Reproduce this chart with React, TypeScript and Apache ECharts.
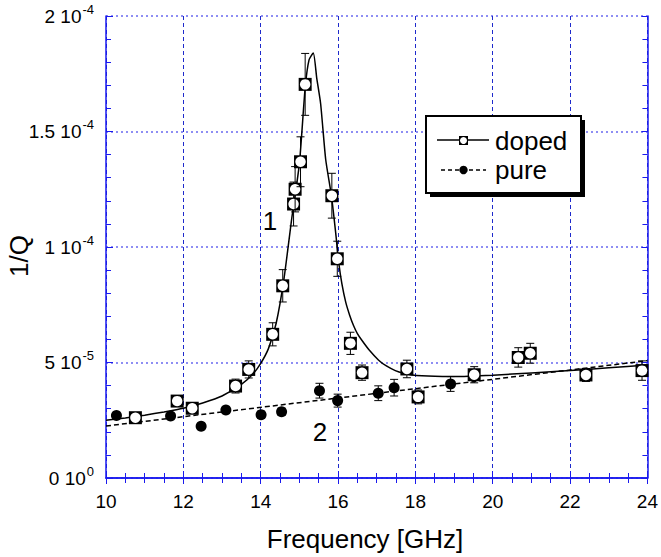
import React, { useEffect, useRef } from "react";
import * as echarts from "echarts";

// values of 1/Q are in units of 1e-5
const yTickLabels = ["0 10{s|0}", "5 10{s|-5}", "1 10{s|-4}", "1.5 10{s|-4}", "2 10{s|-4}"];
const xTickLabels = ["10", "12", "14", "16", "18", "20", "22", "24"];

const dopedX = [10.76, 11.84, 12.23, 13.35, 13.69, 14.31, 14.57, 14.85, 14.89, 15.03, 15.15, 15.84, 15.98, 16.32, 16.62, 17.78, 18.07, 19.52, 20.66, 20.97, 22.41, 23.86];
const dopedY = [2.61, 3.33, 3.02, 3.98, 4.7, 6.22, 8.32, 11.86, 12.5, 13.69, 17.04, 12.22, 9.49, 5.83, 4.56, 4.72, 3.51, 4.47, 5.22, 5.4, 4.46, 4.65];
const dopedErr = [0.1, 0.22, 0.1, 0.3, 0.37, 0.5, 0.7, 0.95, 0.98, 1.08, 1.34, 0.97, 0.76, 0.48, 0.33, 0.38, 0.3, 0.35, 0.42, 0.43, 0.28, 0.42];

const pureX = [10.27, 11.67, 12.46, 13.1, 14.01, 14.54, 15.52, 15.99, 17.04, 17.45, 18.91];
const pureY = [2.71, 2.68, 2.24, 2.94, 2.74, 2.87, 3.78, 3.35, 3.67, 3.91, 4.07];
const pureErr = [0.1, 0.1, 0.05, 0.1, 0.15, 0.15, 0.32, 0.28, 0.32, 0.36, 0.32];

const dopedFitX = [10, 10.5, 11, 11.5, 12, 12.5, 13, 13.5, 13.8, 14, 14.2, 14.4, 14.6, 14.8, 15.0, 15.15, 15.25, 15.36, 15.45, 15.55, 15.68, 15.83, 15.94, 16.02, 16.1, 16.2, 16.3, 16.4, 16.5, 16.62, 16.8, 17.05, 17.25, 17.48, 17.7, 17.91, 18.5, 19, 20, 21, 22, 23, 24];
const dopedFitY = [2.5, 2.6, 2.72, 2.86, 3.02, 3.25, 3.55, 4.05, 4.5, 4.96, 5.6, 6.7, 8.6, 11.2, 13.6, 16.9, 18.1, 18.4, 17.3, 16.2, 13.8, 12.2, 10.6, 9.3, 8.4, 7.6, 7.05, 6.6, 6.25, 5.95, 5.55, 5.1, 4.85, 4.65, 4.53, 4.46, 4.4, 4.39, 4.45, 4.55, 4.65, 4.77, 4.89];

const pureFitX = [10, 24];
const pureFitY = [2.25, 5.08];

const FONT = "Liberation Sans, Arial, sans-serif";
const AXIS_BLUE = "#1a1aee";

export default function App() {
  const ref = useRef<HTMLDivElement>(null);
  useEffect(() => {
    if (!ref.current) return;
    const chart = echarts.init(ref.current, undefined, { renderer: "svg" });

    const errItem = (kind: "doped" | "pure") => (params: any, api: any) => {
      const x = api.value(0);
      const y = api.value(1);
      const e = api.value(2);
      const p = api.coord([x, y]);
      const t = api.coord([x, y + e]);
      const b = api.coord([x, y - e]);
      const cap = 4;
      const ls = { stroke: "#000", lineWidth: 1 };
      const children: any[] = [
        { type: "line", shape: { x1: p[0], y1: t[1], x2: p[0], y2: b[1] }, style: ls },
        { type: "line", shape: { x1: p[0] - cap, y1: t[1], x2: p[0] + cap, y2: t[1] }, style: ls },
        { type: "line", shape: { x1: p[0] - cap, y1: b[1], x2: p[0] + cap, y2: b[1] }, style: ls },
      ];
      if (kind === "doped") {
        children.push({ type: "rect", shape: { x: p[0] - 6.5, y: p[1] - 6.5, width: 13, height: 13 }, style: { fill: "#000" } });
        children.push({ type: "circle", shape: { cx: p[0], cy: p[1], r: 5.2 }, style: { fill: "#fff" } });
      } else {
        children.push({ type: "circle", shape: { cx: p[0], cy: p[1], r: 5.5 }, style: { fill: "#000" } });
      }
      return { type: "group", children };
    };

    const option: any = {
      animation: false,
      grid: { left: 106, right: 10, top: 16, bottom: 79 },
      xAxis: [
        {
          type: "value",
          min: 10,
          max: 24,
          interval: 2,
          axisLine: { lineStyle: { color: AXIS_BLUE, width: 1.5 } },
          axisTick: { inside: true, length: 7, lineStyle: { color: AXIS_BLUE } },
          minorTick: { show: true, splitNumber: 4, length: 5, lineStyle: { color: AXIS_BLUE } },
          axisLabel: {
            margin: 14,
            fontSize: 19,
            fontFamily: FONT,
            color: "#000",
            formatter: (v: number) => xTickLabels[Math.round((v - 10) / 2)] ?? "",
          },
          splitLine: { show: true, lineStyle: { color: "#1e2acc", type: [4, 3], width: 1 } },
        },
        {
          type: "value",
          position: "top",
          min: 10,
          max: 24,
          interval: 2,
          axisLine: { show: true, lineStyle: { color: AXIS_BLUE, width: 1.5 } },
          axisTick: { show: true, inside: true, length: 6, lineStyle: { color: AXIS_BLUE } },
          minorTick: { show: true, splitNumber: 4, length: 5, lineStyle: { color: AXIS_BLUE } },
          axisLabel: { show: false },
          splitLine: { show: false },
        },
      ],
      yAxis: [
        {
          type: "value",
          min: 0,
          max: 20,
          interval: 5,
          axisLine: { show: true, lineStyle: { color: AXIS_BLUE, width: 1.5 } },
          axisTick: { show: true, inside: true, length: 7, lineStyle: { color: AXIS_BLUE } },
          minorTick: { show: true, splitNumber: 5, length: 5, lineStyle: { color: AXIS_BLUE } },
          axisLabel: {
            margin: 12,
            fontSize: 19,
            fontFamily: FONT,
            color: "#000",
            formatter: (v: number) => yTickLabels[Math.round(v / 5)] ?? "",
            rich: {
              s: { fontSize: 13, fontFamily: FONT, color: "#000", padding: [0, 0, 14, 1] },
            },
          },
          splitLine: { show: true, lineStyle: { color: "#6a6af0", type: [2, 3], width: 1.5 } },
        },
        {
          type: "value",
          position: "right",
          min: 0,
          max: 20,
          interval: 5,
          axisLine: { show: true, lineStyle: { color: AXIS_BLUE, width: 1.5 } },
          axisTick: { show: true, inside: true, length: 6, lineStyle: { color: AXIS_BLUE } },
          minorTick: { show: true, splitNumber: 5, length: 5, lineStyle: { color: AXIS_BLUE } },
          axisLabel: { show: false },
          splitLine: { show: false },
        },
      ],
      series: [
        {
          type: "line",
          name: "pure fit",
          data: pureFitX.map((x, i) => [x, pureFitY[i]]),
          showSymbol: false,
          lineStyle: { color: "#000", width: 1.5, type: [5, 3] },
          z: 2,
        },
        {
          type: "line",
          name: "doped fit",
          data: dopedFitX.map((x, i) => [x, dopedFitY[i]]),
          showSymbol: false,
          smooth: 0.2,
          lineStyle: { color: "#000", width: 1.5 },
          z: 3,
        },
        {
          type: "custom",
          name: "pure",
          data: pureX.map((x, i) => [x, pureY[i], pureErr[i]]),
          renderItem: errItem("pure"),
          z: 4,
        },
        {
          type: "custom",
          name: "doped",
          data: dopedX.map((x, i) => [x, dopedY[i], dopedErr[i]]),
          renderItem: errItem("doped"),
          z: 5,
        },
      ],
      graphic: [
        { type: "rect", shape: { x: 430, y: 120, width: 155, height: 77 }, style: { fill: "#000" }, z: 10 },
        { type: "rect", shape: { x: 426, y: 116, width: 155, height: 77 }, style: { fill: "#fff", stroke: "#000", lineWidth: 2 }, z: 11 },
        { type: "line", shape: { x1: 437, y1: 140, x2: 489, y2: 140 }, style: { stroke: "#000", lineWidth: 1.5 }, z: 12 },
        { type: "rect", shape: { x: 459, y: 136, width: 9, height: 9 }, style: { fill: "#000" }, z: 13 },
        { type: "circle", shape: { cx: 463.5, cy: 140.5, r: 3.5 }, style: { fill: "#fff" }, z: 14 },
        { type: "line", shape: { x1: 441, y1: 170, x2: 486, y2: 170 }, style: { stroke: "#000", lineWidth: 1.5, lineDash: [4, 3] }, z: 12 },
        { type: "circle", shape: { cx: 463.5, cy: 170, r: 4.2 }, style: { fill: "#000" }, z: 13 },
        { type: "text", x: 495, y: 141, style: { text: "doped", font: `26px ${FONT}`, fill: "#000", textVerticalAlign: "middle" }, z: 14 },
        { type: "text", x: 495, y: 170, style: { text: "pure", font: `26px ${FONT}`, fill: "#000", textVerticalAlign: "middle" }, z: 14 },
        { type: "text", x: 270, y: 221, style: { text: "1", font: `26px ${FONT}`, fill: "#000", textAlign: "center", textVerticalAlign: "middle" }, z: 14 },
        { type: "text", x: 320, y: 432, style: { text: "2", font: `26px ${FONT}`, fill: "#000", textAlign: "center", textVerticalAlign: "middle" }, z: 14 },
        { type: "text", x: 365, y: 539, style: { text: "Frequency [GHz]", font: `26px ${FONT}`, fill: "#000", textAlign: "center", textVerticalAlign: "middle" }, z: 14 },
        { type: "text", x: 19, y: 256, rotation: Math.PI / 2, style: { text: "1/Q", font: `26px ${FONT}`, fill: "#000", textAlign: "center", textVerticalAlign: "middle" }, z: 14 },
      ],
    };
    chart.setOption(option);
    return () => chart.dispose();
  }, []);
  return <div ref={ref} style={{ width: 661, height: 557, position: "absolute", left: 0, top: 0 }} />;
}
